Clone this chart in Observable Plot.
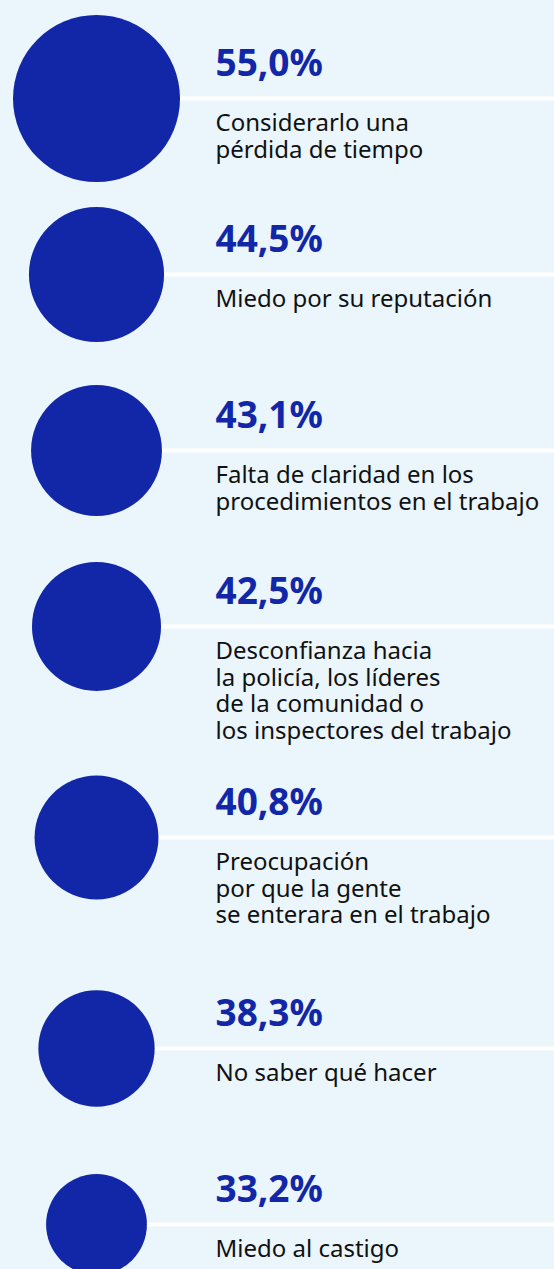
<!DOCTYPE html>
<html>
<head>
<meta charset="utf-8">
<script src="https://cdn.jsdelivr.net/npm/d3@7"></script>
<script src="https://cdn.jsdelivr.net/npm/@observablehq/plot@0.6"></script>
<style>
html, body { margin: 0; padding: 0; background: #eaf5fc; overflow: hidden; }
#chart svg { display: block; }
</style>
</head>
<body>
<div id="chart"></div>
<script>
// Data
const percentages = [55.0, 44.5, 43.1, 42.5, 40.8, 38.3, 33.2];
const reasons = [
  "Considerarlo una\npérdida de tiempo",
  "Miedo por su reputación",
  "Falta de claridad en los\nprocedimientos en el trabajo",
  "Desconfianza hacia\nla policía, los líderes\nde la comunidad o\nlos inspectores del trabajo",
  "Preocupación\npor que la gente\nse enterara en el trabajo",
  "No saber qué hacer",
  "Miedo al castigo"
];

// Layout
const W = 554, H = 1269;
const BLUE = "#1226a8";
const CX = 96, TX = 215;
const fmt = v => d3.format(".1f")(v).replace(".", ",") + "%";

// row positions: each row's slot grows with the number of text lines
let yPos = 98;
const rows = percentages.map((v, i) => {
  const lines = reasons[i].split("\n").length;
  const row = { v, label: fmt(v), reason: reasons[i], y: yPos };
  yPos += lines >= 3 ? 211 : 176;
  return row;
});

const chart = Plot.plot({
  width: W,
  height: H,
  margin: 0,
  x: { domain: [0, W], range: [0, W], axis: null },
  y: { domain: [0, H], range: [0, H], axis: null },
  r: { type: "linear", domain: [0, 55], range: [0, 83.5] },
  style: { background: "#eaf5fc", fontFamily: "'Noto Sans', sans-serif" },
  marks: [
    Plot.ruleY(rows, { y: "y", x1: () => CX, x2: () => W, stroke: "white", strokeWidth: 4 }),
    Plot.dot(rows, { x: () => CX, y: "y", r: "v", fill: BLUE, stroke: null }),
    Plot.text(rows, {
      x: () => TX, y: d => d.y - 23, text: "label",
      textAnchor: "start", lineAnchor: "bottom",
      fontSize: 37, fontWeight: 700, fill: BLUE
    }),
    Plot.text(rows, {
      x: () => TX, y: d => d.y + 13.5, text: "reason",
      textAnchor: "start", lineAnchor: "top", lineHeight: 1.11,
      fontSize: 24, fill: "#111"
    })
  ]
});
document.getElementById("chart").appendChild(chart);
</script>
</body>
</html>
